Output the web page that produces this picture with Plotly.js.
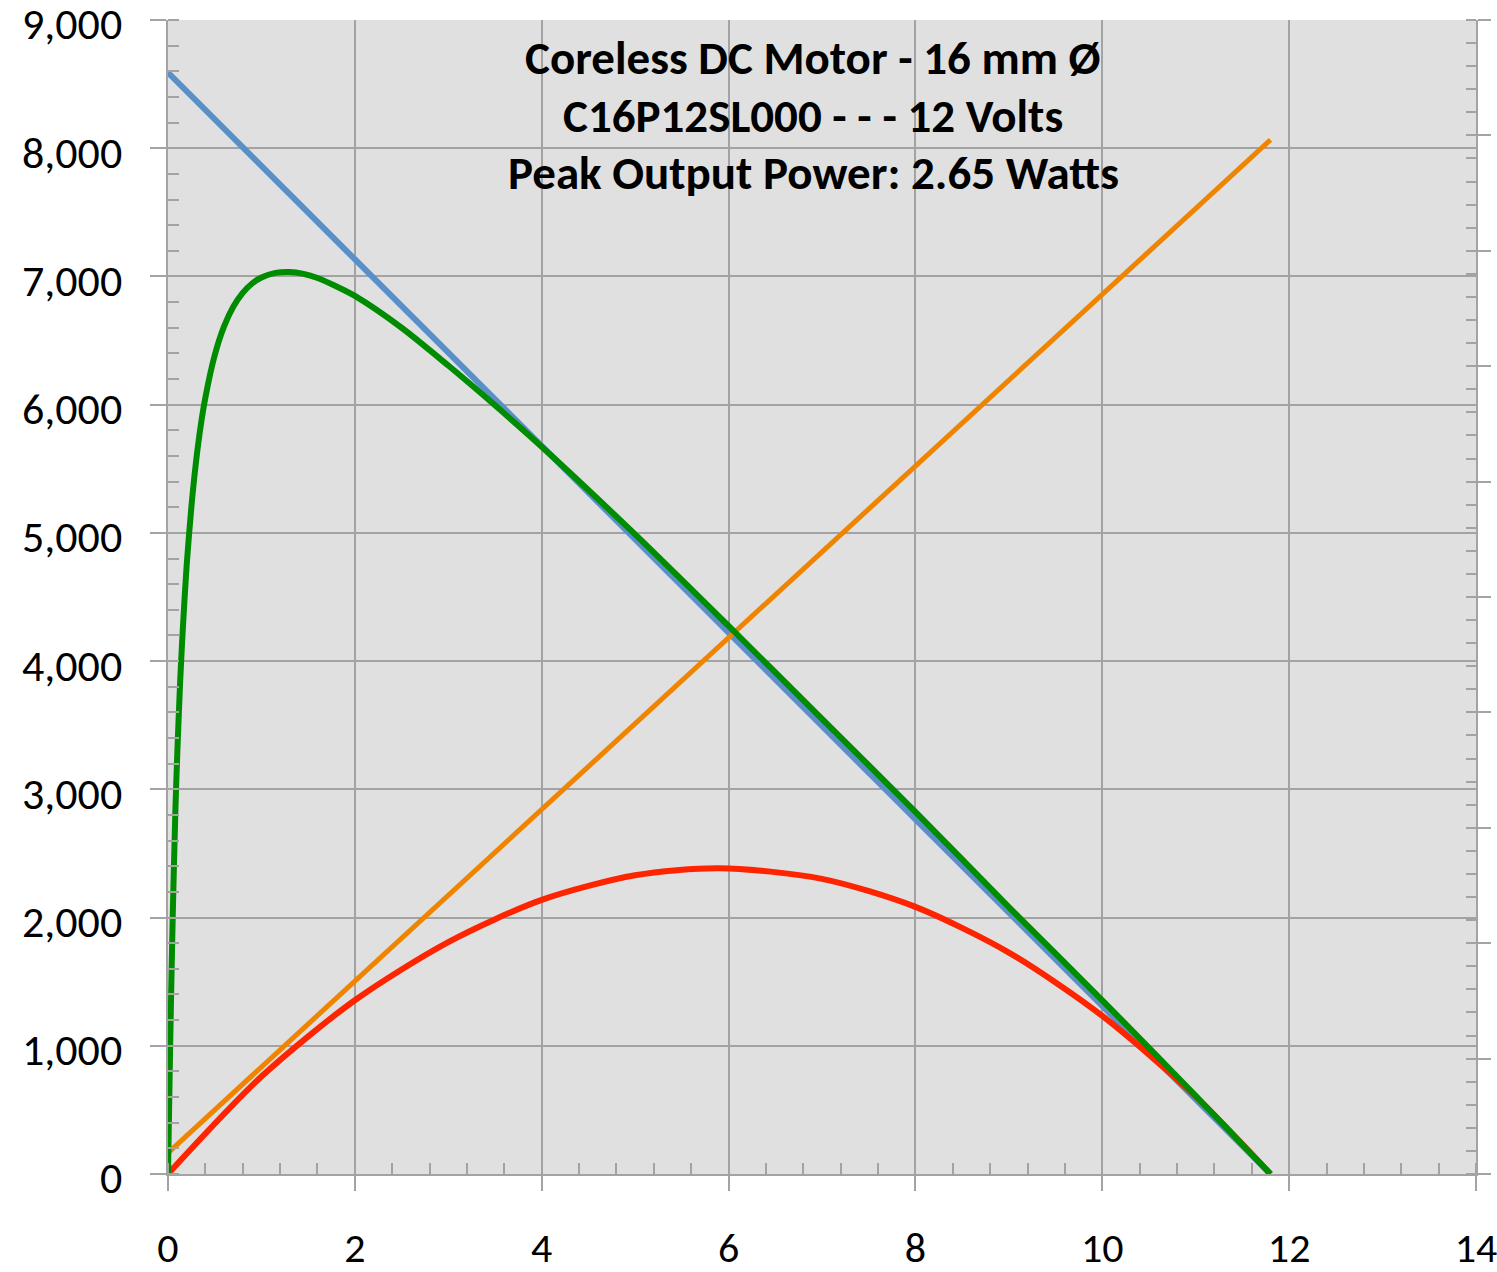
<!DOCTYPE html>
<html>
<head>
<meta charset="utf-8">
<script src="https://cdn.plot.ly/plotly-3.0.1.min.js"></script>
<style>html,body{margin:0;padding:0;background:#fff;}#chart{width:1497px;height:1272px;}</style>
</head>
<body>
<div id="chart"></div>
<script>
var titleLines = ["Coreless DC Motor - 16 mm Ø", "C16P12SL000 - - - 12 Volts", "Peak Output Power: 2.65 Watts"];

var speedX = [0, 2, 4, 6, 8, 10, 11.8];
var speedY = [8590, 7135, 5680, 4222, 2766, 1310, 0];

var currentX = [0, 2, 4, 6, 8, 10, 11.8];
var currentY = [165, 1505, 2845, 4182, 5520, 6860, 8065];

var powerX = [0, 1, 2, 3, 4, 5, 5.9, 7, 8, 9, 10, 11, 11.8];
var powerY = [0, 760, 1355, 1809, 2138, 2330, 2385, 2302, 2083, 1727, 1233, 603, 0];

var effX = [0, 0.025, 0.05, 0.08, 0.1, 0.13, 0.16, 0.2, 0.25, 0.3, 0.35, 0.4, 0.5, 0.6, 0.7, 0.8, 0.9, 1.0, 1.15, 1.3, 1.45, 1.6, 1.8, 2.0, 2.5, 3.0, 3.5, 4.0, 5.0, 6.0, 7.0, 8.0, 9.0, 10.0, 11.0, 11.8];
var effY = [0, 1080, 1990, 2860, 3290, 3840, 4270, 4750, 5200, 5555, 5835, 6055, 6385, 6610, 6765, 6872, 6945, 6992, 7028, 7035, 7020, 6988, 6923, 6848, 6600, 6305, 5995, 5672, 4988, 4274, 3550, 2825, 2082, 1355, 610, 0];

var xTickVals = [0, 2, 4, 6, 8, 10, 12, 14];
var yTickVals = [0, 1000, 2000, 3000, 4000, 5000, 6000, 7000, 8000, 9000];

var FONT = "Carlito, Calibri, Lato, 'Open Sans', sans-serif";
var GRID = "#A3A3A3";

var traces = [
  {x: speedX, y: speedY, mode: "lines", line: {color: "#5B8FC9", width: 6}, name: "Speed"},
  {x: currentX, y: currentY, mode: "lines", line: {color: "#EE8400", width: 5}, name: "Current"},
  {x: powerX, y: powerY, mode: "lines", line: {color: "#FF2400", width: 6, shape: "spline", smoothing: 0.8}, name: "Power"},
  {x: effX, y: effY, mode: "lines", line: {color: "#008C00", width: 6, shape: "spline", smoothing: 0.8}, name: "Efficiency"},
  {x: [], y: [], yaxis: "y2", mode: "lines", showlegend: false, hoverinfo: "skip"}
];

var annotations = titleLines.map(function (t, i) {
  var py = [58, 116, 173][i];
  return {
    text: "<b>" + t + "</b>", xref: "paper", yref: "paper",
    x: (813 - 168) / 1308, y: (1174 - py) / 1154,
    xanchor: "center", yanchor: "middle", showarrow: false,
    font: {family: FONT, size: 47, color: "#000"}
  };
});

var layout = {
  width: 1497, height: 1272,
  margin: {l: 168, r: 21, t: 20, b: 98, pad: 0},
  paper_bgcolor: "#FFFFFF",
  plot_bgcolor: "#E0E0E0",
  showlegend: false,
  font: {family: FONT, size: 44, color: "#000"},
  xaxis: {
    range: [0, 14], tickvals: xTickVals, ticktext: xTickVals.map(String),
    showgrid: true, gridcolor: GRID, gridwidth: 2,
    zeroline: false, showline: true, linecolor: GRID, linewidth: 2,
    ticks: "outside", ticklen: 15, tickwidth: 2, tickcolor: GRID,
    ticklabelstandoff: 21, ticklabeloverflow: "allow",
    tickfont: {family: FONT, size: 42, color: "#000"},
    minor: {dtick: 0.4, ticks: "inside", ticklen: 11, tickwidth: 2, tickcolor: GRID, showgrid: false}
  },
  yaxis: {
    range: [0, 9000], tickvals: yTickVals, ticktext: yTickVals.map(function (v) { return v.toLocaleString("en-US"); }),
    showgrid: true, gridcolor: GRID, gridwidth: 2,
    zeroline: false, showline: true, linecolor: GRID, linewidth: 2,
    ticks: "outside", ticklen: 16, tickwidth: 2, tickcolor: GRID,
    ticklabelstandoff: 19, ticklabelshift: 4, ticklabeloverflow: "allow",
    tickfont: {family: FONT, size: 44, color: "#000"},
    minor: {dtick: 200, ticks: "inside", ticklen: 11, tickwidth: 2, tickcolor: GRID, showgrid: false}
  },
  yaxis2: {
    overlaying: "y", side: "right", range: [0, 10], dtick: 1,
    showgrid: false, zeroline: false, showline: true, linecolor: GRID, linewidth: 2,
    ticks: "outside", ticklen: 13, tickwidth: 2, tickcolor: GRID,
    showticklabels: false,
    minor: {dtick: 0.2, ticks: "inside", ticklen: 10, tickwidth: 2, tickcolor: GRID, showgrid: false}
  },
  annotations: annotations
};

Plotly.newPlot("chart", traces, layout, {displayModeBar: false, staticPlot: true});
</script>
</body>
</html>
